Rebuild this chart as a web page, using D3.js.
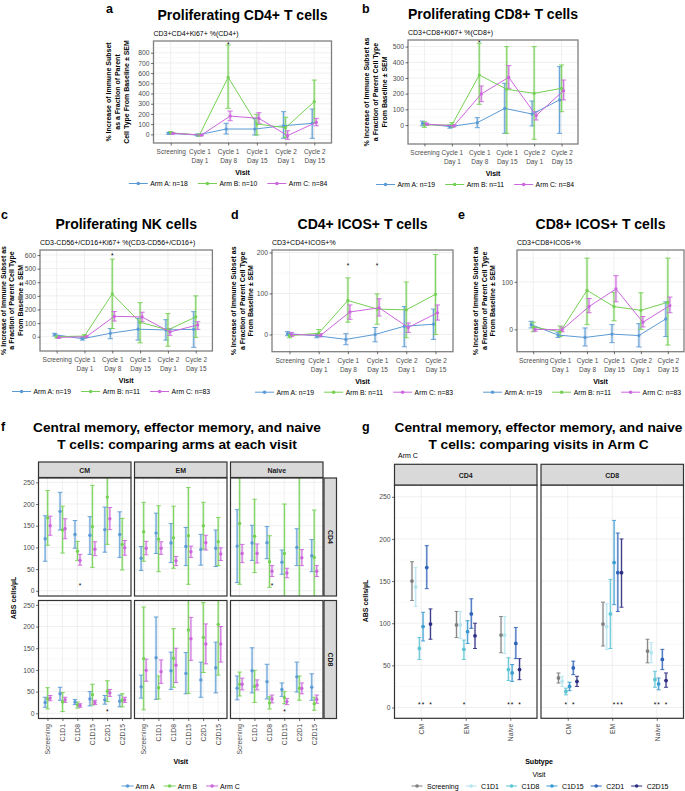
<!DOCTYPE html>
<html><head><meta charset="utf-8">
<script src="https://cdn.jsdelivr.net/npm/d3@7"></script>
<style>
body{margin:0;background:#fff}
svg{display:block}
text{font-family:"Liberation Sans",Arial,Helvetica,sans-serif}
</style>
</head><body>
<svg id="chart" width="685" height="791"></svg>
<script>
// ---------------- DATA ----------------
const visits = ["Screening","Cycle 1 Day 1","Cycle 1 Day 8","Cycle 1 Day 15","Cycle 2 Day 1","Cycle 2 Day 15"];
const visitLines = [["Screening"],["Cycle 1","Day 1"],["Cycle 1","Day 8"],["Cycle 1","Day 15"],["Cycle 2","Day 1"],["Cycle 2","Day 15"]];
const arms = ["Arm A","Arm B","Arm C"];
const armColors = ["#5B9BD5","#76D055","#CC66DD"];

// [mean, lower, upper]
const aArmA = [[10,0,20],[-7,-15,3],[52,3,108],[52,-7,157],[84,-39,222],[108,-39,248]];
const aArmB = [[15,3,27],[-7,-17,3],[559,255,875],[101,-7,196],[65,-33,167],[320,108,532]];
const aArmC = [[10,2,18],[-7,-14,0],[179,133,228],[157,108,212],[-13,-49,35],[118,84,157]];
const aN = [18,10,84];
const aTicks = [0,100,200,300,400,500,600,700,800];

const bArmA = [[10,-5,25],[-10,-20,0],[15,-17,47],[106,-53,266],[70,-6,153],[160,-53,372]];
const bArmB = [[0,-15,20],[0,-15,15],[319,132,521],[228,-53,500],[202,-91,500],[234,85,383]];
const bArmC = [[5,-3,13],[-5,-12,2],[198,149,249],[304,234,379],[60,32,85],[219,160,287]];
const bN = [19,11,84];
const bTicks = [0,100,200,300,400,500];

const cArmA = [[15,5,25],[-15,-25,-5],[25,-15,60],[55,-25,135],[50,-25,125],[54,-78,184]];
const cArmB = [[0,-10,10],[5,-10,15],[314,60,570],[106,-45,250],[50,-70,170],[145,-5,300]];
const cArmC = [[-5,-12,2],[0,-5,5],[150,115,185],[145,110,180],[35,10,60],[86,54,110]];
const cN = [19,11,83];
const cTicks = [0,100,200,300,400,500,600];

const dArmA = [[2,-3,7],[-3,-8,2],[-12,-25,2],[0,-18,17],[20,-30,68],[25,-12,62]];
const dArmB = [[-3,-8,3],[3,-5,12],[83,30,138],[62,25,99],[60,-8,128],[98,0,195]];
const dArmC = [[0,-5,5],[-2,-6,2],[55,37,72],[65,45,87],[17,5,28],[53,35,72]];
const dN = [19,11,83];
const dTicks = [0,100,200];

const eArmA = [[10,3,17],[-12,-17,-7],[-17,-35,3],[-10,-28,10],[-13,-37,12],[22,-15,58]];
const eArmB = [[5,-5,15],[-5,-15,7],[82,10,150],[48,18,78],[40,0,77],[57,-33,150]];
const eArmC = [[0,-4,4],[-1,-5,5],[48,35,65],[85,58,113],[15,5,27],[50,35,68]];
const eN = [19,11,83];
const eTicks = [0,100];

const aStars = [["Cycle 1 Day 8",890]];
const bStars = [["Cycle 1 Day 8",532]];
const cStars = [["Cycle 1 Day 8",600]];
const dStars = [["Cycle 1 Day 8",170],["Cycle 1 Day 15",170]];
const eStars = [];

// Panel f : visits short, subtypes, cell types
const shortVisits = ["Screening","C1D1","C1D8","C1D15","C2D1","C2D15"];
const subtypes = ["CM","EM","Naive"];
const cellTypes = ["CD4","CD8"];
const fTicks = [0,50,100,150,200,250];

const fCD4CM_A = [[120,68,173],[183,140,227],[130,98,162],[128,84,171],[141,89,193],[130,77,182]];
const fCD4CM_B = [[168,105,231],[140,87,195],[91,70,114],[148,54,243],[216,107,275],[107,48,167]];
const fCD4CM_C = [[150,128,172],[143,120,166],[70,59,84],[96,81,113],[166,141,192],[99,82,116]];
const fCD4EM_A = [[75,47,102],[133,86,179],[110,65,155],[102,58,146],[95,59,130],[98,56,140]];
const fCD4EM_B = [[136,68,204],[119,44,196],[122,52,195],[127,15,238],[150,96,204],[113,58,169]];
const fCD4EM_C = [[98,83,114],[98,84,113],[69,58,79],[90,77,103],[111,94,128],[85,70,99]];
const fCD4NV_A = [[103,19,187],[110,70,151],[111,74,148],[66,38,94],[100,58,143],[81,44,118]];
const fCD4NV_B = [[155,15,280],[126,42,211],[67,8,127],[86,-20,200],[290,-20,600],[77,-20,186]];
const fCD4NV_C = [[86,65,107],[86,64,108],[45,33,58],[41,30,52],[76,58,95],[45,33,58]];
const fCD8CM_A = [[25,14,37],[45,30,60],[26,20,32],[33,17,50],[31,21,41],[28,15,42]];
const fCD8CM_B = [[33,10,59],[26,4,48],[19,12,26],[43,19,67],[51,27,75],[30,15,45]];
const fCD8CM_C = [[35,29,41],[31,25,37],[18,14,22],[25,20,30],[47,39,55],[31,25,37]];
const fCD8EM_A = [[61,35,88],[128,32,222],[98,55,141],[92,45,140],[77,37,118],[105,47,164]];
const fCD8EM_B = [[126,8,245],[59,33,86],[127,60,195],[192,46,290],[175,94,255],[205,88,300]];
const fCD8EM_C = [[99,74,125],[96,69,123],[111,71,150],[172,122,221],[160,114,206],[160,118,200]];
const fCD8NV_A = [[58,31,86],[98,47,151],[73,33,113],[55,39,70],[84,49,118],[60,30,91]];
const fCD8NV_B = [[67,40,95],[62,25,99],[24,10,38],[36,22,50],[58,30,86],[22,7,37]];
const fCD8NV_C = [[67,54,81],[65,54,77],[33,24,42],[27,20,34],[57,45,70],[32,23,42]];
// [cellType, subtype, visit, arm index, y value]
const fStars = [["CD4","CM","C1D8",2,14],["CD4","Naive","C1D8",2,14],["CD8","CM","C2D1",1,6],["CD8","Naive","C1D15",1,6]];

// Panel g : Arm C, visits compared
const gVisits = ["Screening","C1D1","C1D8","C1D15","C2D1","C2D15"];
const gColors = ["#7F7F7F","#B5E5EF","#5CC5D5","#3A9BD2","#2F62B9","#2D2E82"];
const gTicks = [0,50,100,150,200,250];
const gCD4_CM = [[150,127,173],[143,120,166],[70,57,83],[96,79,113],[166,141,192],[99,81,117]];
const gCD4_EM = [[98,83,114],[98,82,114],[69,57,80],[90,76,103],[111,94,129],[85,70,100]];
const gCD4_NV = [[86,65,108],[86,64,108],[45,32,59],[41,31,51],[76,58,95],[45,33,58]];
const gCD8_CM = [[35,29,41],[31,25,37],[19,15,23],[25,20,30],[47,39,55],[31,25,37]];
const gCD8_EM = [[99,73,125],[96,69,123],[111,70,152],[172,122,222],[160,114,207],[160,119,200]];
const gCD8_NV = [[67,53,81],[65,53,77],[33,24,43],[28,21,35],[57,45,69],[32,24,41]];
// [cellType, subtype, visit]
const gStars = [["CD4","CM","C1D8"],["CD4","CM","C1D15"],["CD4","CM","C2D15"],["CD4","EM","C1D8"],
  ["CD4","Naive","C1D8"],["CD4","Naive","C1D15"],["CD4","Naive","C2D15"],
  ["CD8","CM","C1D8"],["CD8","CM","C2D1"],["CD8","EM","C1D15"],["CD8","EM","C2D1"],["CD8","EM","C2D15"],
  ["CD8","Naive","C1D8"],["CD8","Naive","C1D15"],["CD8","Naive","C2D15"]];

// ---------------- DRAWING ----------------
const svg = d3.select("#chart");
const FONT = '"Liberation Sans",Arial,Helvetica,sans-serif';
let clipN = 0;

function text(g, x, y, s, o = {}) {
  return g.append("text").attr("x", x).attr("y", y).text(s)
    .attr("font-size", o.size || 7).attr("font-weight", o.bold ? "bold" : "normal")
    .attr("text-anchor", o.anchor || "start").attr("fill", o.fill || "#000");
}
function clip(x, y, w, h) {
  const id = "clip" + (clipN++);
  svg.append("clipPath").attr("id", id).append("rect").attr("x", x).attr("y", y).attr("width", w).attr("height", h);
  return "url(#" + id + ")";
}
function errBar(g, xx, y1, y2, color, cap, wide) {
  g.append("line").attr("x1", xx).attr("x2", xx).attr("y1", y1).attr("y2", y2)
    .attr("stroke", color).attr("stroke-width", wide).attr("stroke-opacity", 0.3);
  g.append("line").attr("x1", xx).attr("x2", xx).attr("y1", y1).attr("y2", y2)
    .attr("stroke", color).attr("stroke-width", 0.9);
  [y1, y2].forEach(yy => g.append("line").attr("x1", xx - cap).attr("x2", xx + cap).attr("y1", yy).attr("y2", yy)
    .attr("stroke", color).attr("stroke-width", 0.9));
}
function grid(g, x0, x1, y0, y1, yScale, ticks, xs) {
  const step = ticks[1] - ticks[0];
  const dom = yScale.domain();
  const minor = d3.range(ticks[0] - step / 2, dom[1], step).filter(v => v > dom[0] && v < dom[1]);
  minor.forEach(v => g.append("line").attr("x1", x0).attr("x2", x1).attr("y1", yScale(v)).attr("y2", yScale(v))
    .attr("stroke", "#F3F3F3").attr("stroke-width", 0.5));
  ticks.forEach(v => g.append("line").attr("x1", x0).attr("x2", x1).attr("y1", yScale(v)).attr("y2", yScale(v))
    .attr("stroke", "#EBEBEB").attr("stroke-width", 0.8));
  xs.forEach(v => g.append("line").attr("x1", v).attr("x2", v).attr("y1", y0).attr("y2", y1)
    .attr("stroke", "#EBEBEB").attr("stroke-width", 0.8));
}
function styleAxis(ax, size) {
  ax.attr("font-size", size || 7).attr("font-family", FONT);
  ax.select(".domain").remove();
  ax.selectAll(".tick line").attr("stroke", "#333").attr("stroke-width", 0.7);
  ax.selectAll(".tick text").attr("fill", "#4D4D4D");
}
function legend(g, items, cx, cy, o) {
  const lg = g.append("g");
  let xpos = 0;
  items.forEach(it => {
    const k = lg.append("g").attr("transform", `translate(${xpos},0)`);
    k.append("line").attr("x1", 0).attr("x2", o.keyW).attr("y1", 0).attr("y2", 0).attr("stroke", it.color).attr("stroke-width", 1);
    k.append("circle").attr("cx", o.keyW / 2).attr("cy", 0).attr("r", 1.8).attr("fill", it.color);
    const t = text(k, o.keyW + o.gap, 2.5, it.label, { size: o.size || 7 });
    const w = t.node().getComputedTextLength();
    xpos += o.keyW + o.gap + w + o.itemGap;
  });
  const total = xpos - o.itemGap;
  lg.attr("transform", `translate(${cx - total / 2},${cy})`);
}

function lineChart(c) {
  const g = svg.append("g");
  const x = d3.scalePoint().domain(visits).range([c.x0, c.x1]).padding(0.6);
  const y = d3.scaleLinear().domain(c.domain).range([c.y1, c.y0]);
  grid(g, c.x0, c.x1, c.y0, c.y1, y, c.ticks, visits.map(v => x(v)));
  const dodge = [-2, 0, 2];
  const pg = g.append("g").attr("clip-path", clip(c.x0, c.y0, c.x1 - c.x0, c.y1 - c.y0));
  c.data.forEach((ser, i) => {
    const col = armColors[i];
    ser.forEach((d, j) => errBar(pg, x(visits[j]) + dodge[i], y(d[1]), y(d[2]), col, 2.6, 2.6));
  });
  c.data.forEach((ser, i) => {
    const col = armColors[i];
    const line = d3.line().x((d, j) => x(visits[j]) + dodge[i]).y(d => y(d[0]));
    pg.append("path").attr("d", line(ser)).attr("fill", "none").attr("stroke", col).attr("stroke-width", 1);
    ser.forEach((d, j) => pg.append("circle").attr("cx", x(visits[j]) + dodge[i]).attr("cy", y(d[0])).attr("r", 1.6).attr("fill", col));
  });
  c.stars.forEach(s => text(g, x(s[0]), y(s[1]) + 3, "*", { size: 6.5, anchor: "middle" }));
  g.append("rect").attr("x", c.x0).attr("y", c.y0).attr("width", c.x1 - c.x0).attr("height", c.y1 - c.y0)
    .attr("fill", "none").attr("stroke", "#7F7F7F").attr("stroke-width", 1.3);
  // axes
  const ay = g.append("g").attr("transform", `translate(${c.x0},0)`)
    .call(d3.axisLeft(y).tickValues(c.ticks).tickSize(2.5).tickPadding(1.5));
  styleAxis(ay, 6.8);
  const ax = g.append("g").attr("transform", `translate(0,${c.y1})`)
    .call(d3.axisBottom(x).tickSize(2.5).tickPadding(4));
  styleAxis(ax, 6.5);
  ax.selectAll(".tick text").each(function (d, i) {
    const t = d3.select(this); t.text(null);
    visitLines[i].forEach((ln, k) => t.append("tspan").attr("x", 0).attr("dy", k === 0 ? "0.71em" : "1.35em").text(ln));
  });
  const cxp = (c.x0 + c.x1) / 2;
  text(g, cxp, c.y1 + 32, "Visit", { bold: true, anchor: "middle" });
  // y label
  const yc = (c.y0 + c.y1) / 2;
  c.ylab.forEach((ln, k) => {
    const xx = c.ylabX - (c.ylab.length - 1 - k) * 8.6;
    g.append("text").attr("transform", `translate(${xx + 2.5},${yc}) rotate(-90)`).attr("text-anchor", "middle")
      .attr("font-size", 7).attr("font-weight", "bold").text(ln);
  });
  // titles
  text(g, cxp, c.y0 - 21.5, c.title, { size: 14, bold: true, anchor: "middle" });
  text(g, c.x0, c.y0 - 5, c.subtitle, { size: 7 });
  text(g, c.letterX, c.letterY, c.letter, { size: 12.5, bold: true });
  legend(g, arms.map((a, i) => ({ label: `${a}: n=${c.n[i]}`, color: armColors[i] })), c.legendX, c.y1 + 40.5,
    { keyW: 19, gap: 2.5, itemGap: 10, size: 6.8 });
}

const ylabA = ["% Increase of Immune Subset", "as a Fraction of Parent", "Cell Type From Baseline ± SEM"];
const ylabB = ["% Increase of Immune Subset as", "a Fraction of Parent Cell Type", "From Baseline ± SEM"];

lineChart({ x0: 153.5, x1: 331.5, y0: 41, y1: 143, domain: [-85, 915], ticks: aTicks, data: [aArmA, aArmB, aArmC], n: aN,
  stars: aStars, title: "Proliferating CD4+ T cells", subtitle: "CD3+CD4+Ki67+ %(CD4+)", letter: "a", letterX: 106, letterY: 13,
  ylab: ylabA, ylabX: 126, legendX: 228 });
lineChart({ x0: 408, x1: 578, y0: 40, y1: 144, domain: [-121, 542], ticks: bTicks, data: [bArmA, bArmB, bArmC], n: bN,
  stars: bStars, title: "Proliferating CD8+ T cells", subtitle: "CD3+CD8+Ki67+ %(CD8+)", letter: "b", letterX: 362, letterY: 13,
  ylab: ylabB, ylabX: 384, legendX: 475 });
lineChart({ x0: 40, x1: 212.4, y0: 250, y1: 351, domain: [-105, 637], ticks: cTicks, data: [cArmA, cArmB, cArmC], n: cN,
  stars: cStars, title: "Proliferating NK cells", subtitle: "CD3-CD56+/CD16+Ki67+ %(CD3-CD56+/CD16+)", letter: "c", letterX: 1, letterY: 219,
  ylab: ylabB, ylabX: 20.5, legendX: 111 });
lineChart({ x0: 272, x1: 453, y0: 250, y1: 351.7, domain: [-42, 206], ticks: dTicks, data: [dArmA, dArmB, dArmC], n: dN,
  stars: dStars, title: "CD4+ ICOS+ T cells", subtitle: "CD3+CD4+ICOS+%", letter: "d", letterX: 231, letterY: 219,
  ylab: ylabB, ylabX: 250.7, legendX: 354 });
lineChart({ x0: 517, x1: 684, y0: 250, y1: 351.7, domain: [-47, 167], ticks: eTicks, data: [eArmA, eArmB, eArmC], n: eN,
  stars: eStars, title: "CD8+ ICOS+ T cells", subtitle: "CD3+CD8+ICOS+%", letter: "e", letterX: 458, letterY: 219,
  ylab: ylabB, ylabX: 492.7, legendX: 582 });

// ---------------- Panel f ----------------
(function () {
  const g = svg.append("g");
  const colX = [38.5, 134.5, 230.5], colW = 92.5;
  const rowY = [478, 600.5], rowH = 118;
  const fData = {
    CD4: { CM: [fCD4CM_A, fCD4CM_B, fCD4CM_C], EM: [fCD4EM_A, fCD4EM_B, fCD4EM_C], Naive: [fCD4NV_A, fCD4NV_B, fCD4NV_C] },
    CD8: { CM: [fCD8CM_A, fCD8CM_B, fCD8CM_C], EM: [fCD8EM_A, fCD8EM_B, fCD8EM_C], Naive: [fCD8NV_A, fCD8NV_B, fCD8NV_C] }
  };
  const dodge = [-2.3, 0.2, 2.7];
  cellTypes.forEach((ct, r) => {
    const y = d3.scaleLinear().domain([-12, 260]).range([rowY[r] + rowH, rowY[r]]);
    subtypes.forEach((st, ci) => {
      const x0 = colX[ci], x1 = x0 + colW;
      const x = d3.scalePoint().domain(shortVisits).range([x0, x1]).padding(0.6);
      grid(g, x0, x1, rowY[r], rowY[r] + rowH, y, fTicks, shortVisits.map(v => x(v)));
      const pg = g.append("g").attr("clip-path", clip(x0, rowY[r], colW, rowH));
      fData[ct][st].forEach((ser, i) => {
        ser.forEach((d, j) => errBar(pg, x(shortVisits[j]) + dodge[i], y(d[1]), y(d[2]), armColors[i], 2.3, 2.4));
      });
      fData[ct][st].forEach((ser, i) => {
        ser.forEach((d, j) => pg.append("circle").attr("cx", x(shortVisits[j]) + dodge[i]).attr("cy", y(d[0])).attr("r", 1.7).attr("fill", armColors[i]));
      });
      fStars.filter(s => s[0] === ct && s[1] === st).forEach(s =>
        text(g, x(s[2]) + dodge[s[3]], y(s[4]) + 3, "*", { size: 6.5, anchor: "middle" }));
      g.append("rect").attr("x", x0).attr("y", rowY[r]).attr("width", colW).attr("height", rowH)
        .attr("fill", "none").attr("stroke", "#333").attr("stroke-width", 1.2);
      if (ci === 0) {
        const ay = g.append("g").attr("transform", `translate(${x0},0)`)
          .call(d3.axisLeft(y).tickValues(fTicks).tickSize(2.5).tickPadding(1.5));
        styleAxis(ay, 6.8);
      }
      if (r === 1) {
        const ax = g.append("g").attr("transform", `translate(0,${rowY[r] + rowH})`)
          .call(d3.axisBottom(x).tickSize(2.5));
        styleAxis(ax, 6.8);
        ax.selectAll(".tick text").attr("transform", "rotate(-90)").attr("text-anchor", "end")
          .attr("x", -5.5).attr("y", 0).attr("dy", "0.35em");
      }
      if (r === 0) {
        g.append("rect").attr("x", x0).attr("y", 462).attr("width", colW).attr("height", 15.5)
          .attr("fill", "#D9D9D9").attr("stroke", "#333").attr("stroke-width", 1.2);
        text(g, x0 + colW / 2, 472.5, st, { size: 7, bold: true, anchor: "middle", fill: "#1A1A1A" });
      }
    });
    g.append("rect").attr("x", 324).attr("y", rowY[r]).attr("width", 12.5).attr("height", rowH)
      .attr("fill", "#D9D9D9").attr("stroke", "#333").attr("stroke-width", 1.2);
    g.append("text").attr("transform", `translate(${327.6},${rowY[r] + rowH / 2}) rotate(90)`).attr("text-anchor", "middle")
      .attr("font-size", 7).attr("font-weight", "bold").attr("fill", "#1A1A1A").text(ct);
  });
  g.append("text").attr("transform", `translate(15.5,598) rotate(-90)`).attr("text-anchor", "middle")
    .attr("font-size", 7).attr("font-weight", "bold").text("ABS cells/µL");
  text(g, 180.75, 763.5, "Visit", { bold: true, anchor: "middle" });
  text(g, 177, 431.5, "Central memory, effector memory, and naive", { size: 13.7, bold: true, anchor: "middle" });
  text(g, 177, 448.5, "T cells: comparing arms at each visit", { size: 13.7, bold: true, anchor: "middle" });
  text(g, 1, 431, "f", { size: 12.5, bold: true });
  legend(g, arms.map((a, i) => ({ label: a, color: armColors[i] })), 180.75, 786, { keyW: 12, gap: 2, itemGap: 9 });
})();

// ---------------- Panel g ----------------
(function () {
  const g = svg.append("g");
  const colX = [394.5, 541], colW = 142.5;
  const y0 = 485, h = 233.3;
  const y = d3.scaleLinear().domain([-12.8, 264]).range([y0 + h, y0]);
  const gData = { CD4: [gCD4_CM, gCD4_EM, gCD4_NV], CD8: [gCD8_CM, gCD8_EM, gCD8_NV] };
  cellTypes.forEach((ct, ci) => {
    const x0 = colX[ci], x1 = x0 + colW;
    const x = d3.scalePoint().domain(subtypes).range([x0, x1]).padding(0.6);
    const off = v => (gVisits.indexOf(v) - 2.5) * 3.7;
    grid(g, x0, x1, y0, y0 + h, y, gTicks, subtypes.map(s => x(s)));
    const pg = g.append("g").attr("clip-path", clip(x0, y0, colW, h));
    gData[ct].forEach((ser, si) => {
      ser.forEach((d, vi) => errBar(pg, x(subtypes[si]) + off(gVisits[vi]), y(d[1]), y(d[2]), gColors[vi], 2, 2.2));
    });
    gData[ct].forEach((ser, si) => {
      ser.forEach((d, vi) => pg.append("circle").attr("cx", x(subtypes[si]) + off(gVisits[vi])).attr("cy", y(d[0])).attr("r", 1.9).attr("fill", gColors[vi]));
    });
    gStars.filter(s => s[0] === ct).forEach(s =>
      text(g, x(s[1]) + off(s[2]), y(4) + 3, "*", { size: 6.5, anchor: "middle" }));
    g.append("rect").attr("x", x0).attr("y", y0).attr("width", colW).attr("height", h)
      .attr("fill", "none").attr("stroke", "#333").attr("stroke-width", 1.2);
    g.append("rect").attr("x", x0).attr("y", 464.3).attr("width", colW).attr("height", 20.7)
      .attr("fill", "#D9D9D9").attr("stroke", "#333").attr("stroke-width", 1.2);
    text(g, x0 + colW / 2, 477.5, ct, { size: 7, bold: true, anchor: "middle", fill: "#1A1A1A" });
    if (ci === 0) {
      const ay = g.append("g").attr("transform", `translate(${x0},0)`)
        .call(d3.axisLeft(y).tickValues(gTicks).tickSize(2.5).tickPadding(1.5));
      styleAxis(ay, 6.8);
    }
    const ax = g.append("g").attr("transform", `translate(0,${y0 + h})`).call(d3.axisBottom(x).tickSize(2.5));
    styleAxis(ax, 6.8);
    ax.selectAll(".tick text").attr("transform", "rotate(-90)").attr("text-anchor", "end")
      .attr("x", -5.5).attr("y", 0).attr("dy", "0.35em");
  });
  g.append("text").attr("transform", `translate(368,601) rotate(-90)`).attr("text-anchor", "middle")
    .attr("font-size", 7).attr("font-weight", "bold").text("ABS cells/µL");
  text(g, 539, 763.5, "Subtype", { bold: true, anchor: "middle" });
  text(g, 539, 776.5, "Visit", { anchor: "middle" });
  text(g, 538.5, 431.5, "Central memory, effector memory, and naive", { size: 13.7, bold: true, anchor: "middle" });
  text(g, 538.5, 448.5, "T cells: comparing visits in Arm C", { size: 13.7, bold: true, anchor: "middle" });
  text(g, 398, 458, "Arm C", { size: 7 });
  text(g, 362, 431, "g", { size: 12.5, bold: true });
  legend(g, gVisits.map((v, i) => ({ label: v, color: gColors[i] })), 540, 786, { keyW: 11, gap: 4.5, itemGap: 7 });
})();
</script>
</body></html>
